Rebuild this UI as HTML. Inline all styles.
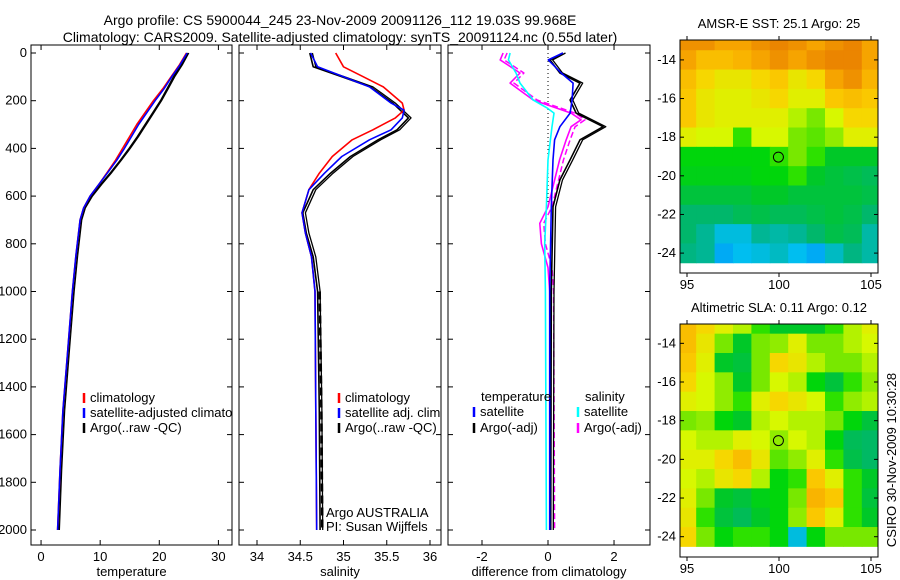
<!DOCTYPE html>
<html><head><meta charset="utf-8"><style>
html,body{margin:0;padding:0;background:#fff;}
svg{display:block;font-family:"Liberation Sans",sans-serif;}
text{font-size:13px;fill:#000;}
</style></head><body>
<svg id="fig" width="900" height="580" viewBox="0 0 900 580">
<text x="340" y="25" text-anchor="middle" style="font-size:14px">Argo profile: CS 5900044_245 23-Nov-2009 20091126_112 19.03S 99.968E</text>
<text x="340" y="42" text-anchor="middle" style="font-size:14px">Climatology: CARS2009. Satellite-adjusted climatology: synTS_20091124.nc (0.55d later)</text>
<defs>
<clipPath id="c1"><rect x="31" y="45" width="201" height="500"/></clipPath>
<clipPath id="c2"><rect x="239" y="45" width="202" height="500"/></clipPath>
<clipPath id="c3"><rect x="448" y="45" width="202" height="500"/></clipPath>
</defs>
<g id="layer"></g>
<text transform="translate(896,460) rotate(-90)" text-anchor="middle">CSIRO 30-Nov-2009 10:30:28</text>
</svg>
<script>
// ---- Temperature panel data ----
const tClimP = [0,50,100,150,200,250,300,350,400,450,500,550,600,650,700,850,1000,1250,1500,1750,2000];
const tClimV = [24.6,23.4,22.0,20.6,19.0,17.6,16.2,15.0,13.8,12.6,11.2,9.8,8.3,7.2,6.6,5.9,5.3,4.5,3.7,3.2,2.8];
const tSatP = [0,50,100,150,200,250,300,350,400,450,500,550,600,650,700,850,1000,1250,1500,1750,2000];
const tSatV = [24.7,23.5,22.1,20.8,19.3,17.9,16.5,15.3,14.1,12.8,11.3,9.8,8.3,7.2,6.6,5.9,5.3,4.5,3.7,3.2,2.8];
const tArgoP = [0,50,100,150,200,250,300,350,400,450,500,550,600,650,700,850,1000,1250,1500,1750,2000];
const tArgoV = [24.8,23.7,22.4,21.3,20.2,18.9,17.6,16.3,14.9,13.4,11.8,10.1,8.5,7.3,6.7,6.0,5.4,4.6,3.8,3.3,2.9];
const tTicks = [0,10,20,30];
// ---- Salinity panel data ----
const sClimP = [0,58,100,142,210,240,272,322,364,434,504,573,670,755,855,1000,1500,2000];
const sClimV = [34.91,35.0,35.23,35.46,35.68,35.7,35.6,35.34,35.1,34.87,34.72,34.6,34.52,34.56,34.63,34.67,34.68,34.69];
const sSatP = [0,58,100,142,210,240,272,322,364,434,504,573,670,755,855,1000,1500,2000];
const sSatV = [34.62,34.7,35.0,35.3,35.55,35.7,35.68,35.55,35.3,34.98,34.78,34.6,34.52,34.56,34.63,34.67,34.68,34.69];
const sArgoP = [0,58,100,142,210,272,322,364,434,504,573,670,755,855,1000,1500,2000];
const sArgoV = [34.61,34.65,34.98,35.31,35.57,35.75,35.62,35.4,35.08,34.85,34.65,34.53,34.57,34.65,34.7,34.72,34.73];
const sTicks = [34,34.5,35,35.5,36];
// ---- Difference panel data ----
const dTempSatP = [0,29,84,126,197,252,309,364,448,645,1000,2000];
const dTempSatV = [0.45,0.01,0.4,0.76,0.73,0.67,0.36,0.2,0.15,0.1,0.05,0.05];
const dTempArgoP = [0,29,84,126,197,252,309,364,448,532,645,1000,2000];
const dTempArgoV = [0.45,0.06,0.36,0.97,0.67,0.85,1.67,0.97,0.67,0.36,0.15,0.1,0.08];
const dSalSatP = [0,29,84,126,197,230,252,309,448,645,800,1000,2000];
const dSalSatV = [-1.15,-1.2,-0.97,-0.85,-0.45,-0.03,0.18,0.12,0.0,-0.05,-0.1,-0.08,-0.05];
const dSalArgoP = [0,29,84,126,197,252,280,309,364,448,532,645,714,800,900,1000,2000];
const dSalArgoV = [-1.36,-1.45,-0.85,-1.15,-0.45,0.7,1.0,0.7,0.55,0.35,0.2,0.0,-0.25,-0.2,0.0,0.05,0.08];
const dTicks = [-2,0,2];
const pTicks = [0,200,400,600,800,1000,1200,1400,1600,1800,2000];
// ---- Map data (rows lat -13..-24, cols lon 95..105) ----
const sstGrid = [
[0.88,0.88,0.85,0.85,0.88,0.9,0.88,0.85,0.88,0.9,0.85],
[0.85,0.8,0.8,0.82,0.85,0.88,0.85,0.88,0.9,0.9,0.85],
[0.8,0.75,0.72,0.72,0.75,0.78,0.72,0.75,0.85,0.88,0.82],
[0.78,0.72,0.7,0.7,0.72,0.75,0.7,0.7,0.78,0.8,0.78],
[0.78,0.72,0.7,0.7,0.7,0.7,0.65,0.6,0.68,0.75,0.75],
[0.7,0.68,0.68,0.55,0.68,0.68,0.6,0.58,0.62,0.7,0.7],
[0.5,0.5,0.5,0.5,0.5,0.55,0.6,0.55,0.45,0.45,0.45],
[0.48,0.48,0.48,0.48,0.5,0.5,0.55,0.45,0.42,0.4,0.38],
[0.42,0.42,0.42,0.42,0.45,0.45,0.42,0.42,0.42,0.42,0.4],
[0.35,0.35,0.35,0.38,0.4,0.38,0.38,0.4,0.42,0.4,0.35],
[0.35,0.3,0.22,0.22,0.3,0.28,0.3,0.35,0.4,0.38,0.28],
[0.32,0.3,0.15,0.2,0.22,0.25,0.2,0.15,0.25,0.32,0.28]];
const slaGrid = [
[0.8,0.75,0.7,0.65,0.55,0.45,0.45,0.45,0.55,0.65,0.7],
[0.8,0.72,0.6,0.45,0.6,0.62,0.7,0.6,0.6,0.65,0.68],
[0.78,0.7,0.45,0.42,0.6,0.75,0.72,0.65,0.6,0.6,0.65],
[0.75,0.68,0.62,0.45,0.6,0.68,0.65,0.5,0.42,0.55,0.62],
[0.7,0.68,0.62,0.55,0.7,0.75,0.72,0.68,0.55,0.62,0.65],
[0.6,0.62,0.5,0.45,0.65,0.68,0.65,0.65,0.6,0.5,0.42],
[0.68,0.65,0.65,0.7,0.68,0.62,0.68,0.65,0.5,0.38,0.36],
[0.7,0.7,0.75,0.8,0.72,0.58,0.62,0.7,0.55,0.4,0.36],
[0.68,0.65,0.72,0.75,0.65,0.5,0.55,0.78,0.7,0.55,0.45],
[0.7,0.6,0.45,0.42,0.48,0.5,0.6,0.82,0.78,0.55,0.42],
[0.72,0.55,0.42,0.38,0.45,0.5,0.62,0.78,0.7,0.55,0.45],
[0.75,0.6,0.5,0.55,0.55,0.5,0.22,0.5,0.6,0.6,0.6]];
const mapLatTicks = [-14,-16,-18,-20,-22,-24];
const mapLonTicks = [95,100,105];
const floatLon = 99.968, floatLat = -19.03;

const NS='http://www.w3.org/2000/svg';
const layer=document.getElementById('layer');
function mk(tag,attrs,parent){const e=document.createElementNS(NS,tag);for(const k in attrs)e.setAttribute(k,attrs[k]);(parent||layer).appendChild(e);return e;}
const py = p => 53 + p*0.2385;

function panel(x0,x1,vmin,vmax,ticks,label,clip,showP,name){
  const sx=v=>x0+(v-vmin)/(vmax-vmin)*(x1-x0);
  const g=mk('g',{});
  
  
  const r=mk('rect',{x:x0,y:45,width:x1-x0,height:500,fill:'none',stroke:'#000','stroke-width':1},g);
  
  
  ticks.forEach(t=>{
    const X=sx(t);
    mk('line',{x1:X,x2:X,y1:45,y2:50,stroke:'#000'},g);
    mk('line',{x1:X,x2:X,y1:540,y2:545,stroke:'#000'},g);
    const tx=mk('text',{x:X,y:561,'text-anchor':'middle'},g);tx.textContent=t;
    
    
  });
  pTicks.forEach(p=>{
    const Y=py(p);
    mk('line',{x1:x0,x2:x0+5,y1:Y,y2:Y,stroke:'#000'},g);
    mk('line',{x1:x1-5,x2:x1,y1:Y,y2:Y,stroke:'#000'},g);
    if(showP){const tx=mk('text',{x:x0-4,y:Y+4,'text-anchor':'end'},g);tx.textContent=p;
      
      }
  });
  const xl=mk('text',{x:(x0+x1)/2,y:576,'text-anchor':'middle'},g);xl.textContent=label;
  
  
  return {sx,g,clip};
}
function line(pn,ps,vs,color,w,nm,dash,pmin){
  let d='';
  ps.forEach((p,i)=>{if(pmin!==undefined&&p<pmin)return;d+=(d?'L':'M')+pn.sx(vs[i]).toFixed(1)+','+py(p).toFixed(1);});
  const a={d:d,fill:'none',stroke:color,'stroke-width':w,'clip-path':'url(#'+pn.clip+')','stroke-linejoin':'round'};
  if(dash)a['stroke-dasharray']=dash;
  const e=mk('path',a,pn.g);
  
  
  return e;
}
function legendEntry(g,x,y,color,label,clip){
  mk('line',{x1:x,x2:x,y1:y-9,y2:y+1,stroke:color,'stroke-width':2.5},g);
  const t=mk('text',{x:x+6,y:y,'clip-path':clip?'url(#'+clip+')':''},g);t.textContent=label;
  
  
}

// Panel 1
const P1=panel(31,232,-1.7,32.3,tTicks,'temperature','c1',true,'temperature-panel');
line(P1,tArgoP,tArgoV.map(v=>v+0.2),'#000',1.2,'argo-temperature-line-2');
line(P1,tArgoP,tArgoV,'#000',1.5,'argo-temperature-line');
line(P1,tClimP,tClimV,'#f00',1.6,'climatology-temperature-line');
line(P1,tSatP,tSatV,'#00f',1.6,'satellite-temperature-line');
legendEntry(P1.g,84,402,'#f00','climatology','c1');
legendEntry(P1.g,84,417,'#00f','satellite-adjusted climatology','c1');
legendEntry(P1.g,84,432,'#000','Argo(..raw -QC)','c1');

// Panel 2
const P2=panel(239,441,33.792,36.127,sTicks,'salinity','c2',false,'salinity-panel');
line(P2,sArgoP,sArgoV.map(v=>v+0.03),'#000',1.3,'argo-salinity-line-2');
line(P2,sArgoP,sArgoV,'#000',1.6,'argo-salinity-line');
line(P2,sArgoP,sArgoV.map(v=>v+0.025),'#000',2.5,'argo-salinity-deep-dashed','8,4',900);
line(P2,sClimP,sClimV,'#f00',1.6,'climatology-salinity-line');
line(P2,sSatP,sSatV,'#00f',1.6,'satellite-salinity-line');
legendEntry(P2.g,339,402,'#f00','climatology','c2');
legendEntry(P2.g,339,417,'#00f','satellite adj. clim.','c2');
legendEntry(P2.g,339,432,'#000','Argo(..raw -QC)','c2');
[['Argo AUSTRALIA',517],['PI: Susan Wijffels',531]].forEach(a=>{
  const t=mk('text',{x:326,y:a[1]},P2.g);t.textContent=a[0];
  
  
});

// Panel 3
const P3=panel(448,650,-3.03,3.09,dTicks,'difference from climatology','c3',false,'difference-panel');
mk('line',{x1:P3.sx(0),x2:P3.sx(0),y1:45,y2:205,stroke:'#000','stroke-dasharray':'1,3'},P3.g);
line(P3,dSalArgoP,dSalArgoV.map(v=>v+0.12),'#f0f',1.5,'argo-salinity-diff-line-2','6,3');
line(P3,dSalArgoP,dSalArgoV,'#f0f',1.6,'argo-salinity-diff-line');
line(P3,dTempArgoP,dTempArgoV.map(v=>v+0.08),'#000',1.3,'argo-temperature-diff-line-2');
line(P3,dTempArgoP,dTempArgoV,'#000',1.6,'argo-temperature-diff-line');
line(P3,dTempSatP,dTempSatV,'#00f',1.6,'satellite-temperature-diff-line');
line(P3,dSalSatP,dSalSatV,'#0ff',1.6,'satellite-salinity-diff-line');
[['temperature',481,401],['salinity',585,401]].forEach(a=>{
  const t=mk('text',{x:a[1],y:a[2]},P3.g);t.textContent=a[0];
  
  
});
legendEntry(P3.g,474,416,'#00f','satellite','c3');
legendEntry(P3.g,474,432,'#000','Argo(-adj)','c3');
legendEntry(P3.g,578,416,'#0ff','satellite','c3');
legendEntry(P3.g,578,432,'#f0f','Argo(-adj)','c3');

// Maps
const stops=[[0,[0,110,255]],[0.2,[0,190,240]],[0.33,[0,180,120]],[0.45,[0,200,40]],[0.52,[0,220,0]],[0.6,[120,232,0]],[0.68,[215,248,0]],[0.76,[250,210,0]],[0.84,[248,170,0]],[0.92,[230,120,0]]];
function cmap(v){
  for(let i=1;i<stops.length;i++){if(v<=stops[i][0]){const a=stops[i-1],b=stops[i],f=(v-a[0])/(b[0]-a[0]);
    return 'rgb('+a[1].map((c,k)=>Math.round(c+(b[1][k]-c)*f)).join(',')+')';}}
  return 'rgb(230,120,0)';
}
function drawMap(y0,y1,latTop,latBot,grid,title,name){
  const x0=680,x1=878,lonL=94.62,lonR=105.38;
  const sx=l=>x0+(l-lonL)/(lonR-lonL)*(x1-x0);
  const sy=la=>y0+(latTop-la)/(latTop-latBot)*(y1-y0);
  const g=mk('g',{});
  
  
  grid.forEach((row,ri)=>row.forEach((v,ci)=>{
    const la=-13-ri,lo=95+ci;
    const xa=Math.max(x0,sx(lo-0.5)),xb=Math.min(x1,sx(lo+0.5));
    const ya=Math.max(y0,sy(la+0.5)),yb=Math.min(y1,sy(la-0.5));
    const c=mk('rect',{x:xa,y:ya,width:xb-xa+0.5,height:yb-ya+0.5,fill:cmap(v)},g);
    
    
  }));
  mk('rect',{x:x0,y:y0,width:x1-x0,height:y1-y0,fill:'none',stroke:'#000'},g);
  mapLatTicks.forEach(la=>{const Y=sy(la);
    mk('line',{x1:x0,x2:x0+4,y1:Y,y2:Y,stroke:'#000'},g);
    mk('line',{x1:x1-4,x2:x1,y1:Y,y2:Y,stroke:'#000'},g);
    const t=mk('text',{x:x0-4,y:Y+4,'text-anchor':'end'},g);t.textContent=la;
    
    });
  mapLonTicks.forEach(lo=>{const X=sx(lo);
    mk('line',{x1:X,x2:X,y1:y0-4,y2:y0,stroke:'#000'},g);
    mk('line',{x1:X,x2:X,y1:y1,y2:y1+4,stroke:'#000'},g);
    const t=mk('text',{x:X,y:y1+16,'text-anchor':'middle'},g);t.textContent=lo;
    
    });
  const t=mk('text',{x:(x0+x1)/2,y:y0-12,'text-anchor':'middle'},g);t.textContent=title;
  
  
  const c=mk('circle',{cx:sx(floatLon),cy:sy(floatLat),r:5,fill:'none',stroke:'#000'},g);
  
  
}
drawMap(40,273,-12.97,-25.03,sstGrid,'AMSR-E SST: 25.1 Argo: 25','sst-map');
drawMap(324,557,-13.0,-25.05,slaGrid,'Altimetric SLA: 0.11 Argo: 0.12','sla-map');
</script>
</body></html>
